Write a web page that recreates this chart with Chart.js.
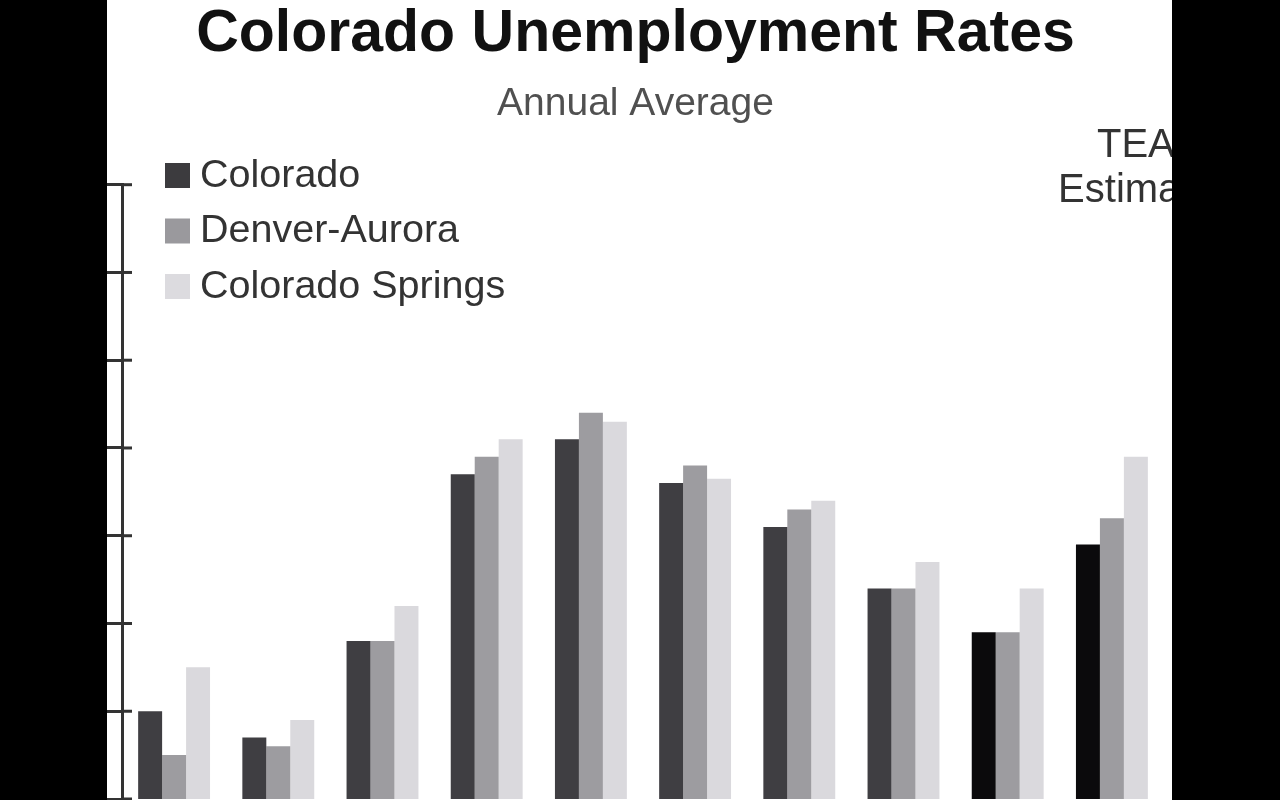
<!DOCTYPE html>
<html>
<head>
<meta charset="utf-8">
<script src="https://cdn.jsdelivr.net/npm/chart.js@4.4.0/dist/chart.umd.min.js"></script>
<style>
    html, body { margin: 0; padding: 0; background: #000; overflow: hidden; }
    #wrap { position: absolute; left: 107px; top: 0; width: 1065px; height: 800px; background: #fff; }
</style>
</head>
<body>
<div id="wrap"><canvas id="rates"></canvas></div>
<script>
// annual average unemployment rate, %
var years = ['1999', '2000', '2001', '2002', '2003', '2004', '2005', '2006', '2007', '2008'];
var colorado = [3.0, 2.7, 3.8, 5.7, 6.1, 5.6, 5.1, 4.4, 3.9, 4.9];
var denverAurora = [2.5, 2.6, 3.8, 5.9, 6.4, 5.8, 5.3, 4.4, 3.9, 5.2];
var coloradoSprings = [3.5, 2.9, 4.2, 6.1, 6.3, 5.65, 5.4, 4.7, 4.4, 5.9];
var yMin = 2;
var yMax = 9;

var coloradoColors = ['#3f3e42', '#3f3e42', '#3f3e42', '#3f3e42', '#3f3e42',
                      '#3f3e42', '#3f3e42', '#3f3e42', '#0b0a0c', '#0b0a0c'];
var legendColors = ['#3c3b3e', '#9a999d', '#dcdbdf'];

// legend, inner tick stubs and the "TEA Estimate" note
var extras = {
    id: 'extras',
    afterDraw: function (chart) {
        var ctx = chart.ctx;
        var ys = chart.scales.y;
        var xs = chart.scales.x;
        ctx.save();
        ctx.strokeStyle = '#333';
        ctx.lineWidth = 3;
        ys.ticks.forEach(function (t) {
            var py = ys.getPixelForValue(t.value);
            ctx.beginPath();
            ctx.moveTo(ys.right, py);
            ctx.lineTo(ys.right + 10, py);
            ctx.stroke();
        });

        ctx.font = '39.5px "Liberation Sans", Arial, sans-serif';
        ctx.textBaseline = 'middle';
        chart.data.datasets.forEach(function (ds, i) {
            var cy = 175 + i * 55.5;
            ctx.fillStyle = legendColors[i];
            ctx.fillRect(58, cy - 12, 25, 25);
            ctx.fillStyle = '#333';
            ctx.fillText(ds.label, 93, cy + 1);
        });

        var nx = xs.getPixelForValue(years.length - 1) + 24;
        ctx.textAlign = 'center';
        ctx.font = '40px "Liberation Sans", Arial, sans-serif';
        ctx.fillStyle = '#333';
        ctx.fillText('TEA', nx, 146);
        ctx.fillText('Estimate', nx, 191);
        ctx.restore();
    }
};

var rates = document.getElementById('rates').getContext('2d');
var myChart = new Chart(rates, {
    type: 'bar',
    data: {
        labels: years,
        datasets: [{
            label: 'Colorado',
            data: colorado,
            backgroundColor: coloradoColors
        }, {
            label: 'Denver-Aurora',
            data: denverAurora,
            backgroundColor: '#9d9ca0'
        }, {
            label: 'Colorado Springs',
            data: coloradoSprings,
            backgroundColor: '#dad9dd'
        }]
    },
    options: {
        responsive: true,
        maintainAspectRatio: false,
        animation: false,
        layout: {
            padding: { left: 0, right: 8, top: 0, bottom: 1 }
        },
        datasets: {
            bar: {
                categoryPercentage: 0.69,
                barPercentage: 1.0,
                borderWidth: 0
            }
        },
        plugins: {
            legend: { display: false },
            tooltip: { enabled: false },
            title: {
                display: true,
                text: 'Colorado Unemployment Rates',
                color: '#111',
                font: { family: '"Liberation Sans", Arial, sans-serif', size: 59, weight: 'bold', lineHeight: 1.1 },
                padding: { top: 2, bottom: 0 }
            },
            subtitle: {
                display: true,
                text: 'Annual Average',
                color: '#505050',
                font: { family: '"Liberation Sans", Arial, sans-serif', size: 39, lineHeight: 1.2 },
                padding: { top: 14, bottom: 57 }
            }
        },
        scales: {
            x: {
                display: false
            },
            y: {
                min: yMin,
                max: yMax,
                ticks: { display: false, stepSize: 1 },
                grid: {
                    drawOnChartArea: false,
                    tickLength: 15,
                    color: '#333',
                    lineWidth: 3
                },
                border: { color: '#333', width: 3 }
            }
        }
    },
    plugins: [extras]
});
</script>
</body>
</html>
